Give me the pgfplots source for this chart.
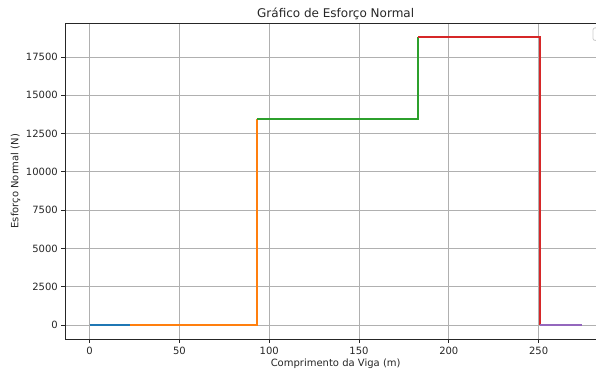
\documentclass[border=0pt]{standalone}
\usepackage{fontspec}
\setmainfont{DejaVu Sans}
\usepackage{pgfplots}
\pgfplotsset{compat=1.18}
\definecolor{mblue}{HTML}{1F77B4}
\definecolor{morange}{HTML}{FF7F0E}
\definecolor{mgreen}{HTML}{2CA02C}
\definecolor{mred}{HTML}{D62728}
\definecolor{mpurple}{HTML}{9467BD}
\definecolor{mgrid}{HTML}{B0B0B0}
\begin{document}
\begin{tikzpicture}
\begin{axis}[
  at={(0,0)}, anchor=south west,
  scale only axis, width=541.3pt, height=316.4pt,
  xmin=-13.7, xmax=287.7, ymin=-939, ymax=19719,
  xtick={0,50,100,150,200,250},
  ytick={0,2500,5000,7500,10000,12500,15000,17500},
  scaled x ticks=false, scaled y ticks=false,
  /pgf/number format/assume math mode=true,
  /pgf/number format/1000 sep={},
  ticklabel style={font=\fontsize{10}{12}\selectfont, text=black!85},
  xticklabel style={inner sep=0pt, anchor=north, yshift=-3.5pt},
  yticklabel style={inner sep=0pt, anchor=east, xshift=-3.5pt},
  tick align=outside, xtick pos=bottom, ytick pos=left,
  major tick length=3.5pt,
  tick style={black!85, line width=0.8pt},
  axis line style={black!85, line width=0.8pt},
  grid=major, grid style={mgrid, line width=0.8pt},
  title={Gráfico de Esforço Normal},
  title style={font=\fontsize{12}{14}\selectfont, text=black!85, at={(0.5,1)}, anchor=base, yshift=-0.5pt, inner sep=0pt},
  xlabel={Comprimento da Viga (m)},
  xlabel style={font=\fontsize{10}{12}\selectfont, text=black!85, at={(0.5,0)}, anchor=base, yshift=-27.3pt, inner sep=0pt},
  ylabel={Esforço Normal (N)},
  ylabel style={font=\fontsize{10}{12}\selectfont, text=black!85, at={(0,0.5)}, anchor=center, yshift=49.5pt, inner sep=0pt},
  clip=false,
]
\addplot[mblue, line width=1.8pt, mark=none] coordinates {(0,0) (22.5,0)};
\addplot[morange, line width=1.8pt, mark=none] coordinates {(22.5,0) (93,0) (93,13430)};
\addplot[mgreen, line width=1.8pt, mark=none] coordinates {(93,13430) (183,13430) (183,18780)};
\addplot[mred, line width=1.8pt, mark=none] coordinates {(183,18780) (251,18780) (251,0)};
\addplot[mpurple, line width=1.8pt, mark=none] coordinates {(251,0) (274,0)};
\end{axis}
\draw[black!20, line width=0.8pt, rounded corners=2pt] (528pt,311.5pt) rectangle (560pt,299pt);
\pgfresetboundingbox
\useasboundingbox (-65pt,-34.6pt) rectangle (531pt,339.4pt);
\end{tikzpicture}
\end{document}
